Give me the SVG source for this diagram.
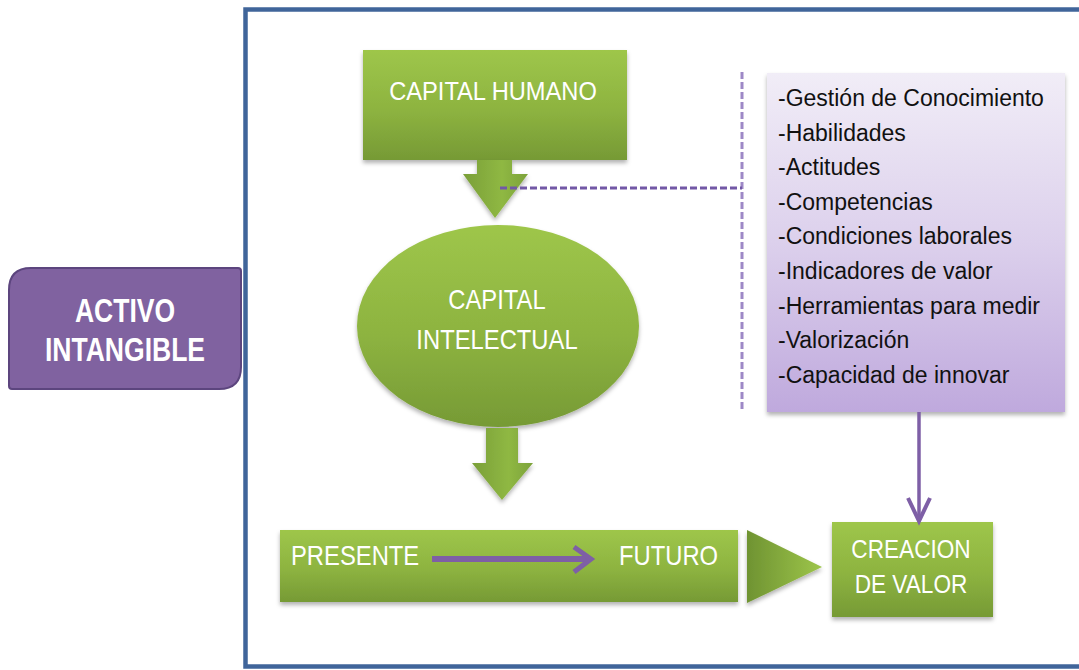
<svg xmlns="http://www.w3.org/2000/svg" width="1079" height="670" viewBox="0 0 1079 670">
  <defs>
    <linearGradient id="gGreen" x1="0" y1="0" x2="0" y2="1">
      <stop offset="0" stop-color="#9ec64a"/>
      <stop offset="0.55" stop-color="#8db340"/>
      <stop offset="1" stop-color="#769a35"/>
    </linearGradient>
    <linearGradient id="gGreenH" x1="0" y1="0" x2="1" y2="0">
      <stop offset="0" stop-color="#6f9332"/>
      <stop offset="1" stop-color="#9dc54a"/>
    </linearGradient>
    <linearGradient id="gArrow" x1="0" y1="0" x2="1" y2="0">
      <stop offset="0" stop-color="#7a9f38"/>
      <stop offset="0.6" stop-color="#8fb843"/>
      <stop offset="1" stop-color="#7ca23a"/>
    </linearGradient>
    <linearGradient id="gLilac" x1="0" y1="0" x2="0" y2="1">
      <stop offset="0" stop-color="#f1edf7"/>
      <stop offset="0.5" stop-color="#dcd0ec"/>
      <stop offset="1" stop-color="#bfa9dd"/>
    </linearGradient>
    <filter id="sh" x="-10%" y="-10%" width="120%" height="130%">
      <feDropShadow dx="0" dy="3" stdDeviation="2" flood-color="#000" flood-opacity="0.3"/>
    </filter>
  </defs>
  <style>
    .lbl { font-family: "Liberation Sans", Arial, sans-serif; fill: #ffffff; }
    .list { font-family: "Liberation Sans", Arial, sans-serif; font-size: 23px; fill: #111111; }
    .green { fill: url(#gGreen); filter: url(#sh); }
    .dash { fill: none; stroke-width: 3; stroke-dasharray: 7 3; }
  </style>

  <rect width="1079" height="670" fill="#ffffff"/>

  <g id="frame">
    <rect x="245.5" y="9.5" width="880" height="657" fill="none" stroke="#40659a" stroke-width="4.5"/>
  </g>

  <g id="activo-intangible">
    <path d="M31,268 H238 Q241,268 241,271 V367 Q241,389 219,389 H12 Q9,389 9,386 V290 Q9,268 31,268 Z" fill="#8062a0" stroke="#5c457e" stroke-width="2"/>
    <text class="lbl" font-weight="bold" font-size="34" text-anchor="middle" transform="translate(125,322) scale(0.78,1)">ACTIVO</text>
    <text class="lbl" font-weight="bold" font-size="34" text-anchor="middle" transform="translate(125,361) scale(0.78,1)">INTANGIBLE</text>
  </g>

  <g id="capital-humano">
    <rect class="green" x="363" y="50" width="264" height="110"/>
    <text class="lbl" font-size="26" text-anchor="middle" transform="translate(493,100) scale(0.91,1)">CAPITAL HUMANO</text>
  </g>

  <g id="capital-intelectual">
    <ellipse class="green" cx="498" cy="326" rx="141" ry="101"/>
    <text class="lbl" font-size="28" text-anchor="middle" transform="translate(497,309) scale(0.85,1)">CAPITAL</text>
    <text class="lbl" font-size="28" text-anchor="middle" transform="translate(497,349) scale(0.85,1)">INTELECTUAL</text>
  </g>

  <g id="lista">
    <rect x="767" y="73" width="298" height="339" fill="url(#gLilac)" filter="url(#sh)"/>
    <text class="list" x="778" y="106">-Gestión de Conocimiento</text>
    <text class="list" x="778" y="141">-Habilidades</text>
    <text class="list" x="778" y="175">-Actitudes</text>
    <text class="list" x="778" y="210">-Competencias</text>
    <text class="list" x="778" y="244">-Condiciones laborales</text>
    <text class="list" x="778" y="279">-Indicadores de valor</text>
    <text class="list" x="778" y="314">-Herramientas para medir</text>
    <text class="list" x="778" y="348">-Valorización</text>
    <text class="list" x="778" y="383">-Capacidad de innovar</text>
  </g>

  <g id="presente-futuro">
    <rect class="green" x="280" y="530" width="458" height="72"/>
    <text class="lbl" font-size="28" transform="translate(291,565) scale(0.85,1)">PRESENTE</text>
    <text class="lbl" font-size="28" transform="translate(619,565) scale(0.85,1)">FUTURO</text>
  </g>

  <g id="creacion-valor">
    <rect class="green" x="832" y="522" width="161" height="95"/>
    <text class="lbl" font-size="26" text-anchor="middle" transform="translate(911,558) scale(0.87,1)">CREACION</text>
    <text class="lbl" font-size="26" text-anchor="middle" transform="translate(911,593) scale(0.87,1)">DE VALOR</text>
  </g>

  <g id="connectors">
    <path d="M477,160 H512 V174 H528 L495,218 L463,174 H477 Z" fill="url(#gArrow)" filter="url(#sh)"/>
    <path d="M486,428 H518 V463 H533 L502,500 L472,463 H486 Z" fill="url(#gArrow)" filter="url(#sh)"/>
    <path d="M747,530 L822,567 L747,603 Z" fill="url(#gGreenH)" filter="url(#sh)"/>
    <path class="dash" d="M742,72 V410" stroke="#9d88c6"/>
    <path class="dash" d="M500,188 H742" stroke="#7258a6"/>
    <path d="M432,559 H588" fill="none" stroke="#7e5fa6" stroke-width="6"/>
    <path d="M574,547 L591,559 L574,572" fill="none" stroke="#7e5fa6" stroke-width="5" stroke-linejoin="miter"/>
    <path d="M919,412 V519" fill="none" stroke="#7e5fa6" stroke-width="3.5"/>
    <path d="M908,498 L919,521 L930,498" fill="none" stroke="#7e5fa6" stroke-width="4"/>
  </g>
</svg>
